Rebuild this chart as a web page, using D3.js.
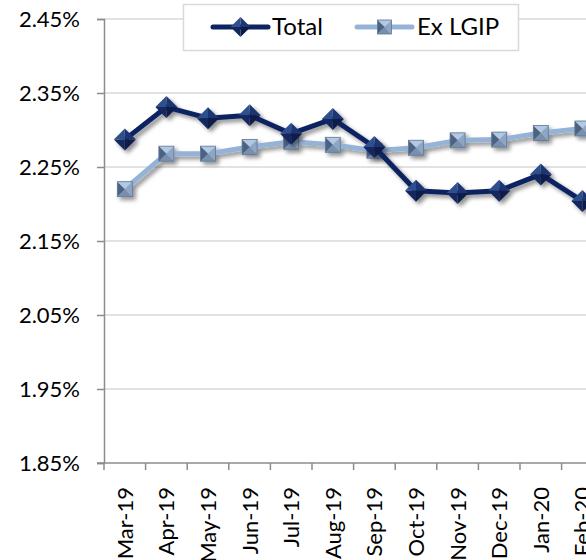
<!DOCTYPE html>
<html>
<head>
<meta charset="utf-8">
<script src="https://cdn.jsdelivr.net/npm/d3@7"></script>
<style>
  html, body { margin: 0; padding: 0; background: #fff; overflow: hidden; }
  svg { display: block; font-family: Lato, "Open Sans", sans-serif; }
</style>
</head>
<body>
<div id="chart"></div>
<script>
// categories and series
const months = ["Mar-19", "Apr-19", "May-19", "Jun-19", "Jul-19", "Aug-19",
                "Sep-19", "Oct-19", "Nov-19", "Dec-19", "Jan-20", "Feb-20"];
const totalValues = [2.287, 2.331, 2.316, 2.320, 2.295, 2.315,
                     2.277, 2.218, 2.215, 2.218, 2.240, 2.204];
const exLgipValues = [2.220, 2.268, 2.268, 2.277, 2.284, 2.280,
                      2.272, 2.276, 2.286, 2.287, 2.296, 2.302];
const yTicks = [1.85, 1.95, 2.05, 2.15, 2.25, 2.35, 2.45];

const width = 586, height = 560;
// plot box runs past the right edge, like the cropped original
const margin = { top: 19, left: 104 };
const bandW = 41.6;
const plotH = 444;

const svg = d3.select("#chart").append("svg")
  .attr("width", width)
  .attr("height", height);

const defs = svg.append("defs");
const shadow = defs.append("filter").attr("id", "shadow")
  .attr("x", "-50%").attr("y", "-50%").attr("width", "200%").attr("height", "200%");
shadow.append("feGaussianBlur").attr("in", "SourceAlpha").attr("stdDeviation", 2.2);
shadow.append("feOffset").attr("dx", 3).attr("dy", 3).attr("result", "off");
shadow.append("feComponentTransfer").append("feFuncA").attr("type", "linear").attr("slope", 0.45);
const merge = shadow.append("feMerge");
merge.append("feMergeNode");
merge.append("feMergeNode").attr("in", "SourceGraphic");

const x = d3.scaleBand()
  .domain(months)
  .range([margin.left, margin.left + bandW * months.length]);
const y = d3.scaleLinear()
  .domain([1.85, 2.45])
  .range([margin.top + plotH, margin.top]);

// gridlines
svg.append("g")
  .selectAll("line")
  .data(yTicks.slice(1))
  .join("line")
  .attr("x1", margin.left)
  .attr("x2", width)
  .attr("y1", d => y(d))
  .attr("y2", d => y(d))
  .attr("stroke", "#d9d9d9")
  .attr("stroke-width", 1.3);

// y axis
const yAxis = svg.append("g")
  .attr("transform", `translate(${margin.left},0)`)
  .call(d3.axisLeft(y).tickValues(yTicks).tickSize(7).tickPadding(17)
    .tickFormat(d => d.toFixed(2) + "%"));
yAxis.select(".domain").attr("stroke", "#8c8c8c").attr("stroke-width", 1.5);
yAxis.selectAll(".tick line").attr("stroke", "#8c8c8c").attr("stroke-width", 1.5);
yAxis.selectAll("text").attr("font-size", 22).attr("fill", "#000")
  .attr("font-family", "Lato, 'Open Sans', sans-serif");

// x axis (ticks on band boundaries)
const xAxisG = svg.append("g");
xAxisG.append("line")
  .attr("x1", margin.left - 7).attr("x2", width)
  .attr("y1", y(1.85)).attr("y2", y(1.85))
  .attr("stroke", "#8c8c8c").attr("stroke-width", 1.5);
xAxisG.selectAll(".xt")
  .data(months)
  .join("line")
  .attr("class", "xt")
  .attr("x1", d => x(d)).attr("x2", d => x(d))
  .attr("y1", y(1.85)).attr("y2", y(1.85) + 7)
  .attr("stroke", "#8c8c8c").attr("stroke-width", 1.5);
xAxisG.selectAll(".xl")
  .data(months)
  .join("text")
  .attr("class", "xl")
  .attr("transform", d => `translate(${x(d) + x.bandwidth() / 2 + 8},${y(1.85) + 24}) rotate(-90)`)
  .attr("text-anchor", "end")
  .attr("font-size", 22)
  .text(d => d);

const cx = d => x(d) + x.bandwidth() / 2;

const line = d3.line()
  .x((d, i) => cx(months[i]))
  .y(d => y(d));

// markers as little bevelled pyramids
function squareMarker(g, s) {
  const h = s / 2;
  const faces = [
    { pts: [[-h, -h], [h, -h], [0, 0]], fill: "#b3c8e2" },
    { pts: [[h, -h], [h, h], [0, 0]], fill: "#8ea6c3" },
    { pts: [[h, h], [-h, h], [0, 0]], fill: "#7890ae" },
    { pts: [[-h, h], [-h, -h], [0, 0]], fill: "#4c6282" }
  ];
  faces.forEach(f => g.append("path")
    .attr("d", "M" + f.pts.join("L") + "Z")
    .attr("fill", f.fill));
  g.append("rect").attr("x", -h).attr("y", -h).attr("width", s).attr("height", s)
    .attr("fill", "none").attr("stroke", "#5d7594").attr("stroke-width", 0.8);
}
function diamondMarker(g, s) {
  const h = s / 2;
  const faces = [
    { pts: [[-h, 0], [0, -h], [0, 0]], fill: "#2f4f8e" },
    { pts: [[0, -h], [h, 0], [0, 0]], fill: "#1b3672" },
    { pts: [[h, 0], [0, h], [0, 0]], fill: "#0a1b4a" },
    { pts: [[0, h], [-h, 0], [0, 0]], fill: "#13285e" }
  ];
  faces.forEach(f => g.append("path")
    .attr("d", "M" + f.pts.join("L") + "Z")
    .attr("fill", f.fill));
}

const series = [
  { name: "Ex LGIP", values: exLgipValues, color: "#95b3d7", marker: squareMarker, size: 15 },
  { name: "Total", values: totalValues, color: "#0e2460", marker: diamondMarker, size: 22 }
];

series.forEach(s => {
  const g = svg.append("g").attr("filter", "url(#shadow)");
  g.append("path")
    .attr("d", line(s.values))
    .attr("fill", "none")
    .attr("stroke", s.color)
    .attr("stroke-width", 5)
    .attr("stroke-linejoin", "round");
  s.values.forEach((v, i) => {
    const m = g.append("g").attr("transform", `translate(${cx(months[i])},${y(v)})`);
    s.marker(m, s.size);
  });
});

// legend
const legend = svg.append("g");
legend.append("rect")
  .attr("x", 183.5).attr("y", 4.5).attr("width", 335).attr("height", 46)
  .attr("fill", "#fff").attr("stroke", "#d9d9d9").attr("stroke-width", 1.5);
const legendItems = [
  { s: series[1], x0: 213, x1: 268, tx: 272 },
  { s: series[0], x0: 357, x1: 412, tx: 417 }
];
legendItems.forEach(it => {
  legend.append("line")
    .attr("x1", it.x0).attr("x2", it.x1).attr("y1", 27).attr("y2", 27)
    .attr("stroke", it.s.color).attr("stroke-width", 5).attr("stroke-linecap", "round");
  const m = legend.append("g").attr("transform", `translate(${(it.x0 + it.x1) / 2},27)`);
  it.s.marker(m, it.s.name === "Total" ? 20 : 14);
  legend.append("text")
    .attr("x", it.tx).attr("y", 35)
    .attr("font-size", 24)
    .text(it.s.name);
});
</script>
</body>
</html>
